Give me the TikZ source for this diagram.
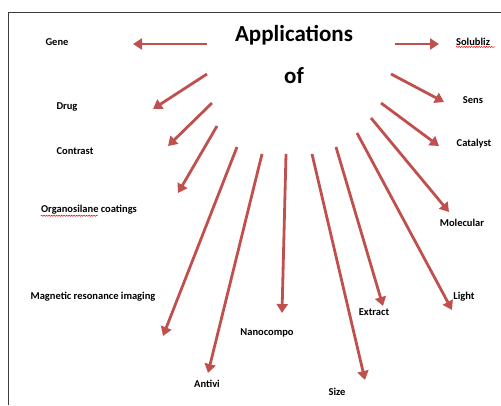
\documentclass[tikz,border=0pt]{standalone}
\usepackage{fontspec}
\setmainfont{Carlito}
\usetikzlibrary{arrows.meta,decorations.pathmorphing}
\definecolor{arrowred}{RGB}{192,80,77}
\definecolor{frame}{RGB}{60,60,60}
\tikzset{
  lbl/.style={font=\bfseries\fontsize{10.5}{12}\selectfont, inner sep=0pt},
  ttl/.style={font=\bfseries\fontsize{23}{27}\selectfont, inner sep=0pt},
  arr/.style={draw=arrowred, line width=2.8pt, -{Triangle[length=9pt,width=11pt]}},
  squig/.style={draw=red, line width=0.5pt, decorate, decoration={snake, amplitude=0.6pt, segment length=2.5pt}}
}
\begin{document}
\begin{tikzpicture}[x=1pt,y=-1pt]
\useasboundingbox (0,0) rectangle (501,405);
\draw[frame, line width=1pt] (8,405) -- (8,12) -- (501,12);
% titles
\node[ttl] (app) at (294,35) {Applications};
\node[ttl] (of) at (294,76) {of};
% labels
\node[lbl] (gene) at (57,42) {Gene};
\node[lbl] (drug) at (67,107) {Drug};
\node[lbl] (contrast) at (75,151) {Contrast};
\node[lbl] (organo) at (89,210) {Organosilane coatings};
\node[lbl] (mri) at (93,297) {Magnetic resonance imaging};
\node[lbl] (antivi) at (207,384) {Antivi};
\node[lbl] (nano) at (267,333) {Nanocompo};
\node[lbl] (size) at (337,392) {Size};
\node[lbl] (extract) at (374,312) {Extract};
\node[lbl] (light) at (464,297) {Light};
\node[lbl] (molec) at (462,223) {Molecular};
\node[lbl] (catal) at (474,144) {Catalyst};
\node[lbl] (sens) at (473,100) {Sens};
\node[lbl] (solub) at (473,42) {Solubliz};
% spell-check squiggles
\draw[squig] (solub.south west) ++(0,1) -- ++(39,0);
\draw[squig] (organo.south west) ++(0,1) -- ++(57,0);
% arrow endpoints
\coordinate (gS) at (207,44);  \coordinate (gE) at (133,44);
\coordinate (dS) at (207,74);  \coordinate (dE) at (153,109);
\coordinate (cS) at (212,103); \coordinate (cE) at (168,146);
\coordinate (oS) at (217,126); \coordinate (oE) at (178,193);
\coordinate (mS) at (237,147); \coordinate (mE) at (163,336);
\coordinate (aS) at (262,154); \coordinate (aE) at (208,373);
\coordinate (nS) at (286,154); \coordinate (nE) at (282,313);
\coordinate (zS) at (312,154); \coordinate (zE) at (365,380);
\coordinate (eS) at (336,147); \coordinate (eE) at (383,306);
\coordinate (lS) at (357,133); \coordinate (lE) at (452,310);
\coordinate (moS) at (371,118); \coordinate (moE) at (449,212);
\coordinate (caS) at (381,103); \coordinate (caE) at (439,146);
\coordinate (sS) at (391,74);  \coordinate (sE) at (444,102);
\coordinate (soS) at (395,44); \coordinate (soE) at (439,44);
\foreach \s/\e in {gS/gE,dS/dE,cS/cE,oS/oE,mS/mE,aS/aE,nS/nE,zS/zE,eS/eE,lS/lE,moS/moE,caS/caE,sS/sE,soS/soE}
  \draw[arr] (\s) -- (\e);
\end{tikzpicture}
\end{document}
